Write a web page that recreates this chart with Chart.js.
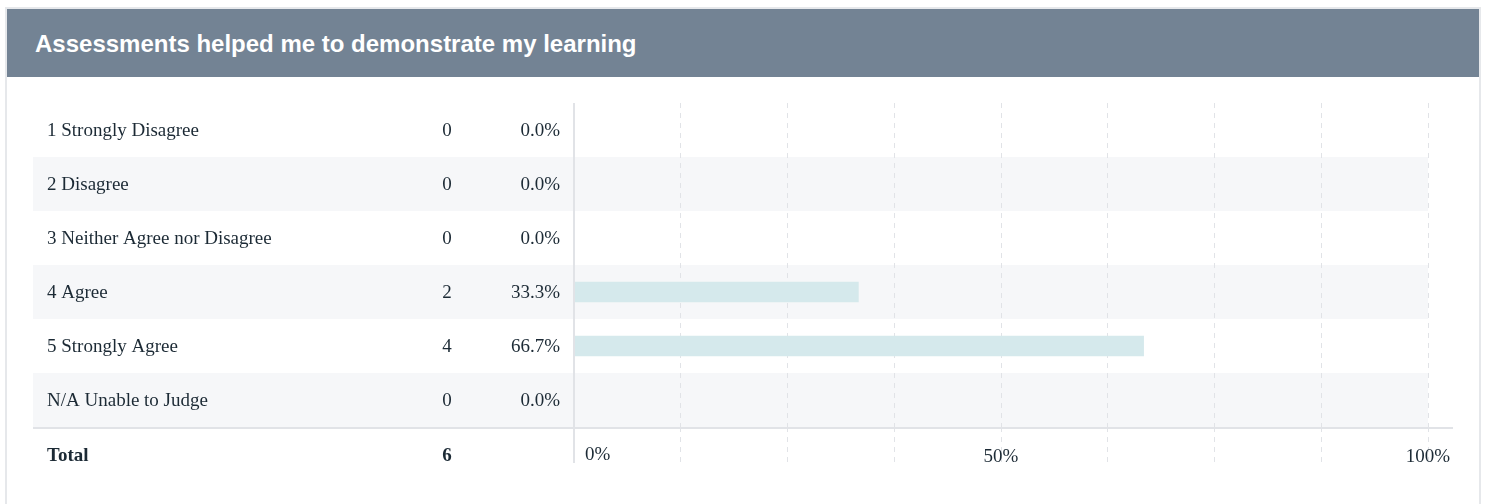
<!DOCTYPE html>
<html>
<head>
<meta charset="utf-8">
<script src="https://cdn.jsdelivr.net/npm/chart.js@4"></script>
<style>
  body { margin: 0; background: #fff; }
  .card {
    position: absolute; left: 5px; top: 7px; width: 1472px; height: 520px;
    border: 2px solid #e6e8eb; background: #fff;
  }
  .head {
    height: 68px; background: #738394; color: #fff; overflow: hidden;
    font: bold 24px "Liberation Sans", Arial, sans-serif;
    line-height: 70px; padding-left: 28px;
  }
  #wrap { position: absolute; left: 0; top: 0; width: 1485px; height: 504px; }
</style>
</head>
<body>
<div class="card"><div class="head">Assessments helped me to demonstrate my learning</div></div>
<div id="wrap"><canvas id="grafica" width="1485" height="504"></canvas></div>
<script>
const categorias = ['1 Strongly Disagree', '2 Disagree', '3 Neither Agree nor Disagree', '4 Agree', '5 Strongly Agree', 'N/A Unable to Judge'];
const conteos = [0, 0, 0, 2, 4, 0];
const porcentajes = [0.0, 0.0, 0.0, 33.3, 66.7, 0.0];
const total = 6;
const valoresTicks = [0, 50, 100];
const etiquetasTicks = ['0%', '50%', '100%'];

const colorTexto = '#1c2a35';
const colorLinea = '#e1e3e7';
const fuente = '19px "Liberation Serif", "Times New Roman", serif';

const tablaPlugin = {
  id: 'tabla',
  beforeDraw(chart) {
    const ctx = chart.ctx;
    const area = chart.chartArea;
    const y = chart.scales.y;
    const alto = area.height / categorias.length;
    ctx.save();
    ctx.fillStyle = '#f6f7f9';
    categorias.forEach((c, i) => {
      if (i % 2 === 1) {
        const yc = y.getPixelForValue(i);
        ctx.fillRect(33, yc - alto / 2, area.right - 33, alto);
      }
    });
    ctx.restore();
  },
  afterDraw(chart) {
    const ctx = chart.ctx;
    const area = chart.chartArea;
    const x = chart.scales.x;
    const y = chart.scales.y;
    ctx.save();

    // eje vertical
    ctx.strokeStyle = colorLinea;
    ctx.lineWidth = 2;
    ctx.beginPath();
    ctx.moveTo(area.left, area.top);
    ctx.lineTo(area.left, area.bottom + 36);
    ctx.stroke();

    // linea del total
    ctx.beginPath();
    ctx.moveTo(33, area.bottom + 1);
    ctx.lineTo(area.right + 25, area.bottom + 1);
    ctx.stroke();

    ctx.fillStyle = colorTexto;
    ctx.textBaseline = 'middle';
    ctx.font = fuente;
    categorias.forEach((c, i) => {
      const yc = y.getPixelForValue(i) + 1;
      ctx.textAlign = 'left';
      ctx.fillText(c, 47, yc);
      ctx.textAlign = 'center';
      ctx.fillText(String(conteos[i]), 447, yc);
      ctx.textAlign = 'right';
      ctx.fillText(porcentajes[i].toFixed(1) + '%', 560, yc);
    });

    const yTotal = area.bottom + 29;
    ctx.font = 'bold ' + fuente;
    ctx.textAlign = 'left';
    ctx.fillText('Total', 47, yTotal);
    ctx.textAlign = 'center';
    ctx.fillText(String(total), 447, yTotal);

    ctx.font = fuente;
    valoresTicks.forEach((v, i) => {
      const px = x.getPixelForValue(v);
      if (i === 0) {
        ctx.textAlign = 'left';
        ctx.fillText(etiquetasTicks[i], px + 11, yTotal - 1);
      } else {
        ctx.textAlign = 'center';
        ctx.fillText(etiquetasTicks[i], px, yTotal + 1);
      }
    });
    ctx.restore();
  }
};

document.addEventListener('DOMContentLoaded', () => {
  const ctx = document.getElementById('grafica').getContext('2d');
  new Chart(ctx, {
    type: 'bar',
    data: {
      labels: categorias,
      datasets: [{
        data: porcentajes,
        backgroundColor: '#d5e9ec',
        borderWidth: 0,
        barThickness: 20
      }]
    },
    options: {
      indexAxis: 'y',
      responsive: false,
      animation: false,
      layout: { padding: { left: 574, right: 57, top: 103, bottom: 41 } },
      plugins: { legend: { display: false }, tooltip: { enabled: false } },
      scales: {
        x: {
          min: 0,
          max: 100,
          ticks: { display: false, stepSize: 12.5 },
          border: { display: false, dash: [5, 5] },
          grid: {
            color: colorLinea,
            tickColor: colorLinea,
            lineWidth: 1,
            tickLength: 36,
            tickBorderDash: [5, 5]
          }
        },
        y: { display: false }
      }
    },
    plugins: [tablaPlugin]
  });
});
</script>
</body>
</html>
